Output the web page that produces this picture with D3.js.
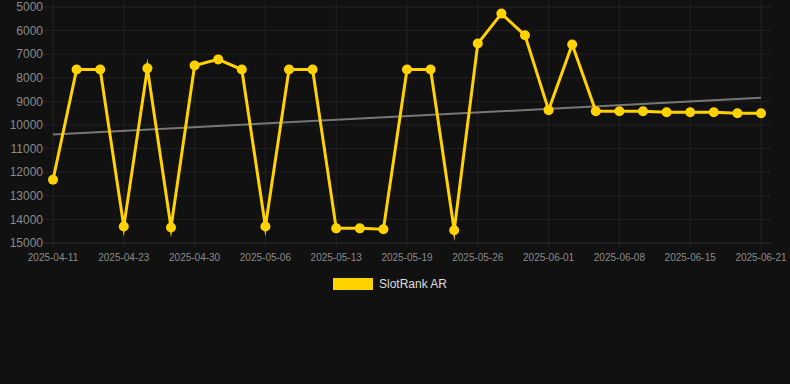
<!DOCTYPE html>
<html>
<head>
<meta charset="utf-8">
<script src="https://cdn.jsdelivr.net/npm/d3@7"></script>
<style>
  html, body { margin: 0; padding: 0; background: #111111; }
  body { width: 790px; height: 384px; overflow: hidden; }
  text { font-family: "Liberation Sans", Arial, sans-serif; }
</style>
</head>
<body>
<div id="chart"></div>
<script>
// Dates along the x axis (every third one is labelled)
const dates = [
  '2025-04-11', '2025-04-15', '2025-04-19', '2025-04-23', '2025-04-25', '2025-04-28',
  '2025-04-30', '2025-05-02', '2025-05-04', '2025-05-06', '2025-05-08', '2025-05-11',
  '2025-05-13', '2025-05-15', '2025-05-17', '2025-05-19', '2025-05-22', '2025-05-24',
  '2025-05-26', '2025-05-28', '2025-05-30', '2025-06-01', '2025-06-03', '2025-06-06',
  '2025-06-08', '2025-06-10', '2025-06-13', '2025-06-15', '2025-06-17', '2025-06-19',
  '2025-06-21'
];

// SlotRank AR rank values
const ranks = [
  12320, 7650, 7650, 14300, 7600, 14340,
  7480, 7220, 7650, 14300, 7650, 7650,
  14380, 14380, 14420, 7650, 7650, 14460,
  6550, 5280, 6200, 9370, 6590, 9420,
  9420, 9420, 9460, 9460, 9460, 9500,
  9500
];

const yTicks = [5000, 6000, 7000, 8000, 9000, 10000, 11000, 12000, 13000, 14000, 15000];
const seriesName = 'SlotRank AR';

const width = 790;
const height = 384;
const margin = { top: 7, right: 29, bottom: 141, left: 53 };

const svg = d3.select('#chart').append('svg')
  .attr('width', width)
  .attr('height', height);

const x = d3.scalePoint()
  .domain(dates)
  .range([margin.left, width - margin.right]);

// rank axis is reversed: best rank at top
const y = d3.scaleLinear()
  .domain([5000, 15000])
  .range([margin.top, height - margin.bottom]);

const tickDates = dates.filter((d, i) => i % 3 === 0);

// horizontal grid
svg.append('g')
  .selectAll('line')
  .data(yTicks)
  .enter().append('line')
  .attr('x1', margin.left - 10)
  .attr('x2', width - margin.right + 10)
  .attr('y1', d => y(d))
  .attr('y2', d => y(d))
  .attr('stroke', d => d === 15000 ? '#2e2e2e' : '#222')
  .attr('stroke-width', 1);

// vertical grid
svg.append('g')
  .selectAll('line')
  .data(tickDates)
  .enter().append('line')
  .attr('x1', d => x(d))
  .attr('x2', d => x(d))
  .attr('y1', 0)
  .attr('y2', height - margin.bottom + 5)
  .attr('stroke', '#222')
  .attr('stroke-width', 1);

// y labels
svg.append('g')
  .selectAll('text')
  .data(yTicks)
  .enter().append('text')
  .attr('x', margin.left - 10)
  .attr('y', d => y(d))
  .attr('dy', '0.35em')
  .attr('text-anchor', 'end')
  .attr('fill', '#8a8a8a')
  .style('font-size', '12px')
  .text(d => d);

// x labels
svg.append('g')
  .selectAll('text')
  .data(tickDates)
  .enter().append('text')
  .attr('x', d => x(d))
  .attr('y', height - margin.bottom + 18)
  .attr('text-anchor', 'middle')
  .attr('fill', '#8a8a8a')
  .style('font-size', '10px')
  .text(d => d);

// linear trend over the series
const n = ranks.length;
const xs = d3.range(n);
const mx = d3.mean(xs), my = d3.mean(ranks);
const slope = d3.sum(xs, i => (i - mx) * (ranks[i] - my)) / d3.sum(xs, i => (i - mx) * (i - mx));
const intercept = my - slope * mx;

svg.append('line')
  .attr('x1', x(dates[0]))
  .attr('x2', x(dates[n - 1]))
  .attr('y1', y(intercept))
  .attr('y2', y(intercept + slope * (n - 1)))
  .attr('stroke', '#777')
  .attr('stroke-width', 2);

// main line
const line = d3.line()
  .x((d, i) => x(dates[i]))
  .y(d => y(d));

svg.append('path')
  .datum(ranks)
  .attr('d', line)
  .attr('fill', 'none')
  .attr('stroke', '#FFD200')
  .attr('stroke-width', 3)
  .attr('stroke-linejoin', 'miter')
  .attr('stroke-miterlimit', 10);

svg.append('g')
  .selectAll('circle')
  .data(ranks)
  .enter().append('circle')
  .attr('cx', (d, i) => x(dates[i]))
  .attr('cy', d => y(d))
  .attr('r', 5)
  .attr('fill', '#FFD200');

// legend
const legend = svg.append('g');
legend.append('rect')
  .attr('x', 333)
  .attr('y', 278)
  .attr('width', 40)
  .attr('height', 12)
  .attr('fill', '#FFD200');
legend.append('text')
  .attr('x', 379)
  .attr('y', 284)
  .attr('dy', '0.35em')
  .attr('fill', '#dddddd')
  .style('font-size', '12px')
  .text(seriesName);
</script>
</body>
</html>
